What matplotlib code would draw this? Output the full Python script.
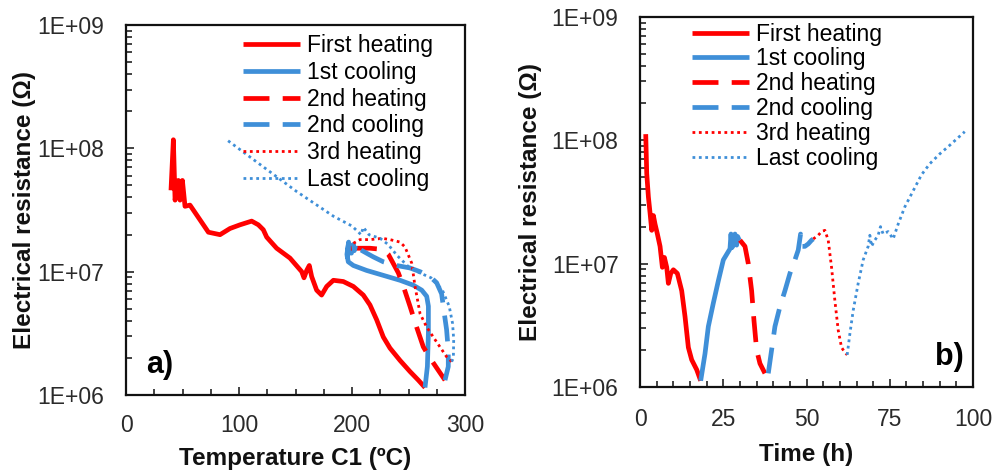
import matplotlib
matplotlib.use("Agg")
import matplotlib.pyplot as plt
from matplotlib.ticker import FixedLocator, LogLocator, NullFormatter, FuncFormatter
import numpy as np

plt.rcParams["font.family"] = ["Liberation Sans", "DejaVu Sans"]

RED = "#FF0000"
BLUE = "#3F8FD8"

# ---- panel a: temperature C1 (ºC) vs log10 resistance ----
a_heat1_t = [39.8, 41.9, 43.4, 46.3, 47.8, 49.9, 52.2, 56.6, 65.5, 72.9, 83.2, 92.0,
             100.9, 111.2, 117.1, 121.5, 124.5, 133.3, 145.1, 155.5, 157.5, 159.9,
             162.2, 164.3, 168.7, 173.1, 177.6, 183.5, 192.3, 201.2, 210.0, 215.9,
             221.8, 227.7, 233.6, 242.5, 251.3, 258.7, 264.6]
a_heat1_r = [7.66, 8.07, 7.58, 7.74, 7.58, 7.74, 7.53, 7.54, 7.42, 7.32, 7.30, 7.35,
             7.38, 7.41, 7.38, 7.34, 7.28, 7.19, 7.11, 7.00, 6.95, 7.01,
             7.05, 6.96, 6.85, 6.81, 6.88, 6.93, 6.92, 6.88, 6.81, 6.73,
             6.61, 6.47, 6.38, 6.28, 6.19, 6.12, 6.06]

a_cool1_t = [264.6, 266.7, 267.6, 267.6, 266.1, 261.7, 254.3, 242.5, 227.7, 212.9,
             201.2, 196.7, 195.5, 197.0, 195.8, 198.5, 199.5, 201.0, 199.0]
a_cool1_r = [6.06, 6.23, 6.50, 6.72, 6.80, 6.85, 6.89, 6.93, 6.97, 7.01,
             7.05, 7.08, 7.14, 7.24, 7.12, 7.20, 7.15, 7.22, 7.19]

a_heat2_t = [199.0, 204.1, 215.9, 227.7, 232.2, 241.0, 245.5, 251.3, 257.2, 263.1,
             269.0, 274.9, 282.3]
a_heat2_r = [7.19, 7.19, 7.19, 7.18, 7.14, 6.99, 6.88, 6.72, 6.55, 6.39,
             6.30, 6.22, 6.12]

a_cool2_t = [282.3, 285.2, 285.2, 283.7, 282.0, 279.3, 274.9, 269.0, 260.2, 251.3,
             239.5, 227.7, 218.8, 212.9, 207.1, 204.0, 202.0, 201.2]
a_cool2_r = [6.12, 6.23, 6.36, 6.53, 6.64, 6.82, 6.91, 6.96, 7.00, 7.03,
             7.05, 7.08, 7.12, 7.15, 7.18, 7.24, 7.17, 7.23]

a_heat3_t = [201.2, 207.0, 216.0, 227.0, 233.6, 242.5, 246.9, 252.8, 255.8, 260.2,
             266.1, 271.9, 277.8, 283.7, 288.2]
a_heat3_r = [7.23, 7.26, 7.26, 7.27, 7.26, 7.24, 7.20, 7.07, 6.88, 6.66,
             6.55, 6.47, 6.39, 6.31, 6.27]

a_coolL_t = [288.2, 289.7, 290.0, 289.0, 286.0, 280.0, 270.0, 260.0, 250.0, 240.0,
             232.0, 225.0, 215.0, 210.0, 208.0, 200.0, 183.5, 151.0, 120.0, 89.1]
a_coolL_r = [6.27, 6.30, 6.45, 6.58, 6.72, 6.85, 6.95, 6.99, 7.04, 7.13,
             7.22, 7.27, 7.30, 7.36, 7.30, 7.37, 7.45, 7.65, 7.86, 8.07]

# ---- panel b: time (h) vs log10 resistance ----
b_heat1_t = [1.7, 2.0, 2.5, 3.0, 3.5, 4.0, 4.5, 5.2, 6.0, 6.7, 7.3, 8.0, 8.5, 9.2,
             10.0, 11.2, 12.5, 13.5, 14.5, 15.5, 17.0, 18.2]
b_heat1_r = [8.05, 7.73, 7.54, 7.41, 7.27, 7.39, 7.32, 7.24, 7.14, 6.97, 7.05, 6.97,
             6.84, 6.92, 6.95, 6.92, 6.78, 6.57, 6.32, 6.22, 6.14, 6.05]

b_cool1_t = [18.2, 19.5, 20.5, 22.0, 23.5, 25.0, 27.0, 27.3, 27.6, 28.2, 28.5,
             29.0, 29.3, 29.8]
b_cool1_r = [6.05, 6.27, 6.49, 6.68, 6.86, 7.03, 7.12, 7.24, 7.13, 7.16, 7.24,
             7.15, 7.22, 7.19]

b_heat2_t = [30.0, 31.5, 32.5, 33.5, 34.2, 35.0, 36.0, 37.5]
b_heat2_r = [7.19, 7.14, 7.00, 6.78, 6.54, 6.30, 6.19, 6.11]

b_cool2_t = [38.5, 39.5, 40.5, 42.0, 43.5, 45.0, 46.5, 47.5, 48.2, 48.5, 49.5,
             50.5, 51.5, 52.0]
b_cool2_r = [6.11, 6.30, 6.49, 6.65, 6.78, 6.92, 7.03, 7.11, 7.24, 7.14, 7.14,
             7.16, 7.19, 7.20]

b_heat3_t = [52.0, 53.5, 54.5, 55.5, 56.5, 57.5, 58.5, 59.5, 60.5, 61.5, 62.2]
b_heat3_r = [7.20, 7.23, 7.26, 7.27, 7.19, 6.97, 6.70, 6.46, 6.32, 6.28, 6.26]

b_coolL_t = [62.2, 63.0, 64.0, 65.5, 67.0, 68.5, 69.0, 69.5, 70.5, 71.5, 72.2,
             73.0, 74.5, 76.0, 77.5, 79.5, 82.0, 84.5, 87.0, 90.0, 93.0, 97.5]
b_coolL_r = [6.26, 6.43, 6.62, 6.84, 7.03, 7.14, 7.23, 7.14, 7.19, 7.23, 7.30,
             7.24, 7.26, 7.20, 7.32, 7.46, 7.59, 7.72, 7.81, 7.89, 7.96, 8.07]

labels = ["First heating", "1st cooling", "2nd heating", "2nd cooling",
          "3rd heating", "Last cooling"]

styles = [
    dict(color=RED, lw=3.4, ls="-"),
    dict(color=BLUE, lw=3.4, ls="-"),
    dict(color=RED, lw=3.4, ls=(0, (5.5, 2.8))),
    dict(color=BLUE, lw=3.4, ls=(0, (5.5, 2.8))),
    dict(color=RED, lw=2.0, ls=(0, (1, 1.3))),
    dict(color=BLUE, lw=2.0, ls=(0, (1, 1.3))),
]

panel_a = [(a_heat1_t, a_heat1_r), (a_cool1_t, a_cool1_r), (a_heat2_t, a_heat2_r),
           (a_cool2_t, a_cool2_r), (a_heat3_t, a_heat3_r), (a_coolL_t, a_coolL_r)]
panel_b = [(b_heat1_t, b_heat1_r), (b_cool1_t, b_cool1_r), (b_heat2_t, b_heat2_r),
           (b_cool2_t, b_cool2_r), (b_heat3_t, b_heat3_r), (b_coolL_t, b_coolL_r)]


def sci(v, _pos):
    return f"1E+{int(round(np.log10(v))):02d}"


def style_axes(ax, xmax, xmajor, xminor, xpad, ypad):
    ax.set_yscale("log")
    ax.set_ylim(1e6, 1e9)
    ax.set_xlim(0, xmax)
    ax.xaxis.set_major_locator(FixedLocator(np.arange(0, xmax + 1, xmajor)))
    ax.xaxis.set_minor_locator(FixedLocator(np.arange(0, xmax + 1, xminor)))
    ax.yaxis.set_major_locator(LogLocator(base=10, numticks=10))
    ax.yaxis.set_minor_locator(LogLocator(base=10, subs=np.arange(2, 10), numticks=10))
    ax.yaxis.set_major_formatter(FuncFormatter(sci))
    ax.yaxis.set_minor_formatter(NullFormatter())
    ax.tick_params(which="both", direction="in", labelsize=16.5, width=1.2,
                   colors="#222222", labelcolor="#2a2a2a")
    ax.tick_params(which="major", length=6)
    ax.tick_params(which="minor", length=4)
    ax.tick_params(axis="x", which="major", pad=xpad)
    ax.tick_params(axis="y", which="major", pad=ypad)
    for s in ax.spines.values():
        s.set_linewidth(1.6)
        s.set_color("#111111")


fig = plt.figure(figsize=(9.97, 4.73), dpi=100)
ax_a = fig.add_axes([0.1264, 0.165, 0.340, 0.782])
ax_b = fig.add_axes([0.642, 0.182, 0.334, 0.782])

for ax, data in ((ax_a, panel_a), (ax_b, panel_b)):
    for (t, r), st, lab in zip(data, styles, labels):
        ax.plot(t, 10 ** np.asarray(r), label=lab, solid_capstyle="butt",
                dash_capstyle="butt", **st)

style_axes(ax_a, 300, 100, 25, xpad=14, ypad=16)
style_axes(ax_b, 100, 25, 5, xpad=15.5, ypad=15.5)

lab_kw = dict(fontsize=17.5, fontweight="bold", color="#111111")
ax_a.set_xlabel("Temperature C1 (ºC)", labelpad=7, **lab_kw)
ax_a.set_ylabel("Electrical resistance (Ω)", labelpad=0.5, **lab_kw)
ax_b.set_xlabel("Time (h)", labelpad=8, **lab_kw)
ax_b.set_ylabel("Electrical resistance (Ω)", labelpad=7, **lab_kw)

ax_a.text(0.06, 0.06, "a)", transform=ax_a.transAxes, fontsize=22, fontweight="bold")
ax_b.text(0.885, 0.06, "b)", transform=ax_b.transAxes, fontsize=22, fontweight="bold")

leg_kw = dict(frameon=False, fontsize=16.5, handlelength=2.5, handletextpad=0.3,
              borderpad=0, borderaxespad=0, loc="upper left")
ax_a.legend(bbox_to_anchor=(0.345, 0.975), labelspacing=0.16, **leg_kw)
ax_b.legend(bbox_to_anchor=(0.156, 0.985), labelspacing=0.08, **leg_kw)

fig.savefig("out.png", dpi=100)
